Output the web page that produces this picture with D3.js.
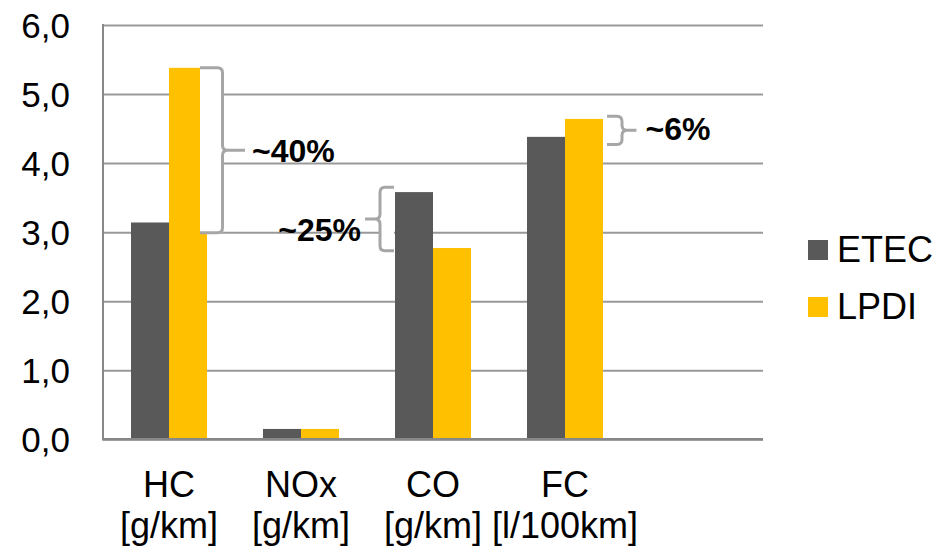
<!DOCTYPE html>
<html>
<head>
<meta charset="utf-8">
<script src="https://cdn.jsdelivr.net/npm/d3@7"></script>
<style>
  html, body { margin: 0; padding: 0; background: #fff; }
  svg { display: block; font-family: "Liberation Sans", Arial, sans-serif; }
</style>
</head>
<body>
<svg id="chart" width="944" height="549"></svg>
<script>
// ---- data ----
const categories = ["HC", "NOx", "CO", "FC"];
const units = ["[g/km]", "[g/km]", "[g/km]", "[l/100km]"];
const seriesNames = ["ETEC", "LPDI"];
const etecValues = [3.14, 0.15, 3.58, 4.38];
const lpdiValues = [5.38, 0.15, 2.77, 4.64];
const yTicks = [0, 1, 2, 3, 4, 5, 6];

// difference braces
const braceCategories = ["HC", "CO", "FC"];
const braceFrom = [2.99, 2.73, 4.27];
const braceTo = [5.38, 3.65, 4.68];
const braceLabels = ["~40%", "~25%", "~6%"];

// ---- layout ----
const plot = { left: 103, right: 763, top: 25, bottom: 439.3 };
const slotCount = 5;           // one empty slot on the right
const colors = { ETEC: "#595959", LPDI: "#FFC000" };
const braceSide = ["right", "left", "right"];
const braceAnchor = ["LPDI", "ETEC", "LPDI"];
const braceGap = [-7, 1, 4];
const braceDepth = [22.5, 14, 15];
const braceTip = [22.5, 15, 14.5];
const labelGap = [7, 4, 9];
const labelDy = [0, 10, -2];

const svg = d3.select("#chart");
const rows = categories.map((c, i) => ({ cat: c, unit: units[i], i, ETEC: etecValues[i], LPDI: lpdiValues[i] }));

const x0 = d3.scaleBand().domain(d3.range(slotCount)).range([plot.left, plot.right]).padding(0);
const x1 = d3.scaleBand().domain(seriesNames).range([0, x0.bandwidth()])
  .paddingInner(0).paddingOuter(0.737);
const y = d3.scaleLinear().domain([0, 6]).range([plot.bottom, plot.top]);

const locale = d3.formatLocale({ decimal: ",", thousands: ".", grouping: [3], currency: ["", "€"] });
const fmt = locale.format(".1f");

// gridlines + y axis
const yAxis = svg.append("g")
  .attr("transform", `translate(${plot.left},0)`)
  .call(d3.axisLeft(y).tickValues(yTicks).tickFormat(fmt).tickSize(-(plot.right - plot.left)).tickPadding(33));
yAxis.select(".domain").remove();
yAxis.selectAll(".tick line").attr("stroke", "#999").attr("stroke-width", 2);
yAxis.selectAll(".tick text")
  .attr("fill", "#000").style("font-size", "35px").attr("dy", "0.36em");

// left axis line
svg.append("line")
  .attr("x1", plot.left).attr("x2", plot.left)
  .attr("y1", plot.top - 1).attr("y2", plot.bottom)
  .attr("stroke", "#888").attr("stroke-width", 2);

// bars
const groups = svg.append("g").selectAll("g").data(rows).join("g")
  .attr("transform", d => `translate(${x0(d.i)},0)`);
groups.selectAll("rect").data(d => seriesNames.map(s => ({ s, v: d[s] }))).join("rect")
  .attr("x", d => x1(d.s))
  .attr("width", x1.bandwidth())
  .attr("y", d => y(d.v))
  .attr("height", d => y(0) - y(d.v))
  .attr("fill", d => colors[d.s]);

// bottom axis line
svg.append("line")
  .attr("x1", plot.left - 1).attr("x2", plot.right)
  .attr("y1", plot.bottom).attr("y2", plot.bottom)
  .attr("stroke", "#888").attr("stroke-width", 2.5);

// category labels, two lines each
const cx = d => x0(d.i) + x0.bandwidth() / 2;
const catLabels = svg.append("g").selectAll("text").data(rows).join("text")
  .attr("x", cx)
  .attr("text-anchor", "middle")
  .style("font-size", "36px").attr("fill", "#000");
catLabels.append("tspan").attr("x", cx).attr("y", 497).text(d => d.cat);
catLabels.append("tspan").attr("x", cx).attr("y", 538).text(d => d.unit);

// braces with white interior, plus their labels
const r = 5;
braceCategories.forEach((c, k) => {
  const i = categories.indexOf(c);
  const barX = x0(i) + x1(braceAnchor[k]);
  const right = braceSide[k] === "right";
  const dir = right ? 1 : -1;
  const xs = right ? barX + x1.bandwidth() + braceGap[k] : barX - braceGap[k];
  const xv = xs + dir * braceDepth[k];
  const xt = xv + dir * braceTip[k];
  const yT = y(braceTo[k]);
  const yB = y(braceFrom[k]);
  const yM = (yT + yB) / 2;

  svg.append("rect")
    .attr("x", Math.min(xs, xv)).attr("width", Math.abs(xv - xs))
    .attr("y", yT).attr("height", yB - yT)
    .attr("fill", "#fff");

  const p = d3.path();
  p.moveTo(xs, yT);
  p.lineTo(xv - dir * r, yT);
  p.quadraticCurveTo(xv, yT, xv, yT + r);
  p.lineTo(xv, yM - r);
  p.quadraticCurveTo(xv, yM, xv + dir * r, yM);
  p.lineTo(xt, yM);
  p.moveTo(xv + dir * r, yM);
  p.quadraticCurveTo(xv, yM, xv, yM + r);
  p.lineTo(xv, yB - r);
  p.quadraticCurveTo(xv, yB, xv - dir * r, yB);
  p.lineTo(xs, yB);
  svg.append("path").attr("d", p.toString())
    .attr("fill", "none").attr("stroke", "#a6a6a6").attr("stroke-width", 3);

  svg.append("text")
    .attr("x", xt + dir * labelGap[k])
    .attr("y", yM + labelDy[k])
    .attr("dy", "0.36em")
    .attr("text-anchor", right ? "start" : "end")
    .style("font-size", "32px").style("font-weight", "bold").attr("fill", "#000")
    .text(braceLabels[k]);
});

// legend
const legend = svg.append("g").selectAll("g").data(seriesNames).join("g")
  .attr("transform", (d, i) => `translate(808,${240 + i * 57})`);
legend.append("rect").attr("width", 20).attr("height", 20).attr("fill", d => colors[d]);
legend.append("text").attr("x", 29).attr("y", 22)
  .style("font-size", "36px").attr("fill", "#000").text(d => d);
</script>
</body>
</html>
